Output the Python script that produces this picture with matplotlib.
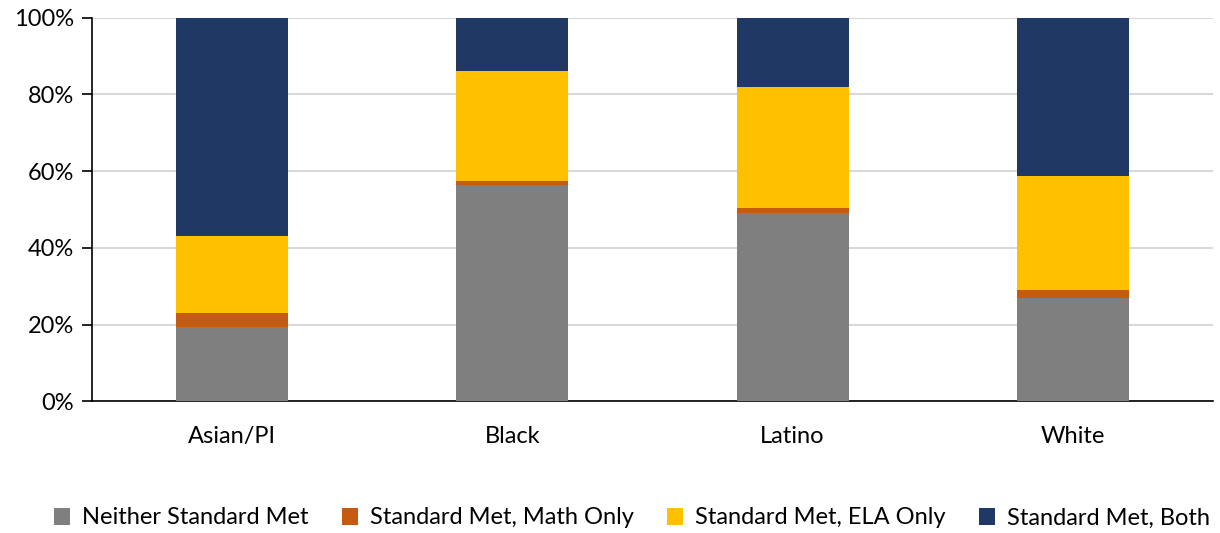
import matplotlib.pyplot as plt
import numpy as np
from matplotlib.ticker import PercentFormatter

plt.rcParams['font.family'] = ['Lato', 'DejaVu Sans']

# 数据（从图中读取，单位 %）
groups = ['Asian/PI', 'Black', 'Latino', 'White']
neither = [19.3, 56.4, 49.0, 27.0]
math_only = [3.8, 1.1, 1.4, 2.0]
ela_only = [20.0, 28.6, 31.5, 29.7]
both = [56.9, 13.9, 18.1, 41.3]

series = [
    ('Neither Standard Met', neither, '#7F7F7F'),
    ('Standard Met, Math Only', math_only, '#C55A11'),
    ('Standard Met, ELA Only', ela_only, '#FFC000'),
    ('Standard Met, Both', both, '#203864'),
]

fig = plt.figure(figsize=(12.2, 5.33), dpi=100)
ax = fig.add_axes([92 / 1220, 1 - 401.3 / 533, (1213 - 92) / 1220, (401.3 - 17.5) / 533])

x = np.arange(len(groups))
bottom = np.zeros(len(groups))
for name, vals, color in series:
    vals = np.array(vals)
    ax.bar(x, vals, 0.4, bottom=bottom, color=color, label=name, zorder=3)
    bottom += vals

ax.set_xlim(-0.5, len(groups) - 0.5)
ax.set_ylim(0, 100)
ax.set_yticks(range(0, 101, 20))
ax.yaxis.set_major_formatter(PercentFormatter(decimals=0))
ax.set_xticks(x)
ax.set_xticklabels(groups)
ax.grid(axis='y', color='#D9D9D9', linewidth=1.5, zorder=0)
ax.set_axisbelow(True)

for s in ['top', 'right']:
    ax.spines[s].set_visible(False)
for s in ['left', 'bottom']:
    ax.spines[s].set_color('black')
    ax.spines[s].set_linewidth(1.2)
ax.tick_params(axis='y', length=7, width=1.2, labelsize=17, pad=6)
ax.tick_params(axis='x', length=0, labelsize=17, pad=18)

fig.legend(loc='center', bbox_to_anchor=(632 / 1220, 1 - 518 / 533), ncol=4, frameon=False,
           fontsize=17, handlelength=0.7, handleheight=0.7, handletextpad=0.5,
           columnspacing=1.4)

plt.savefig('out.png', dpi=100)
